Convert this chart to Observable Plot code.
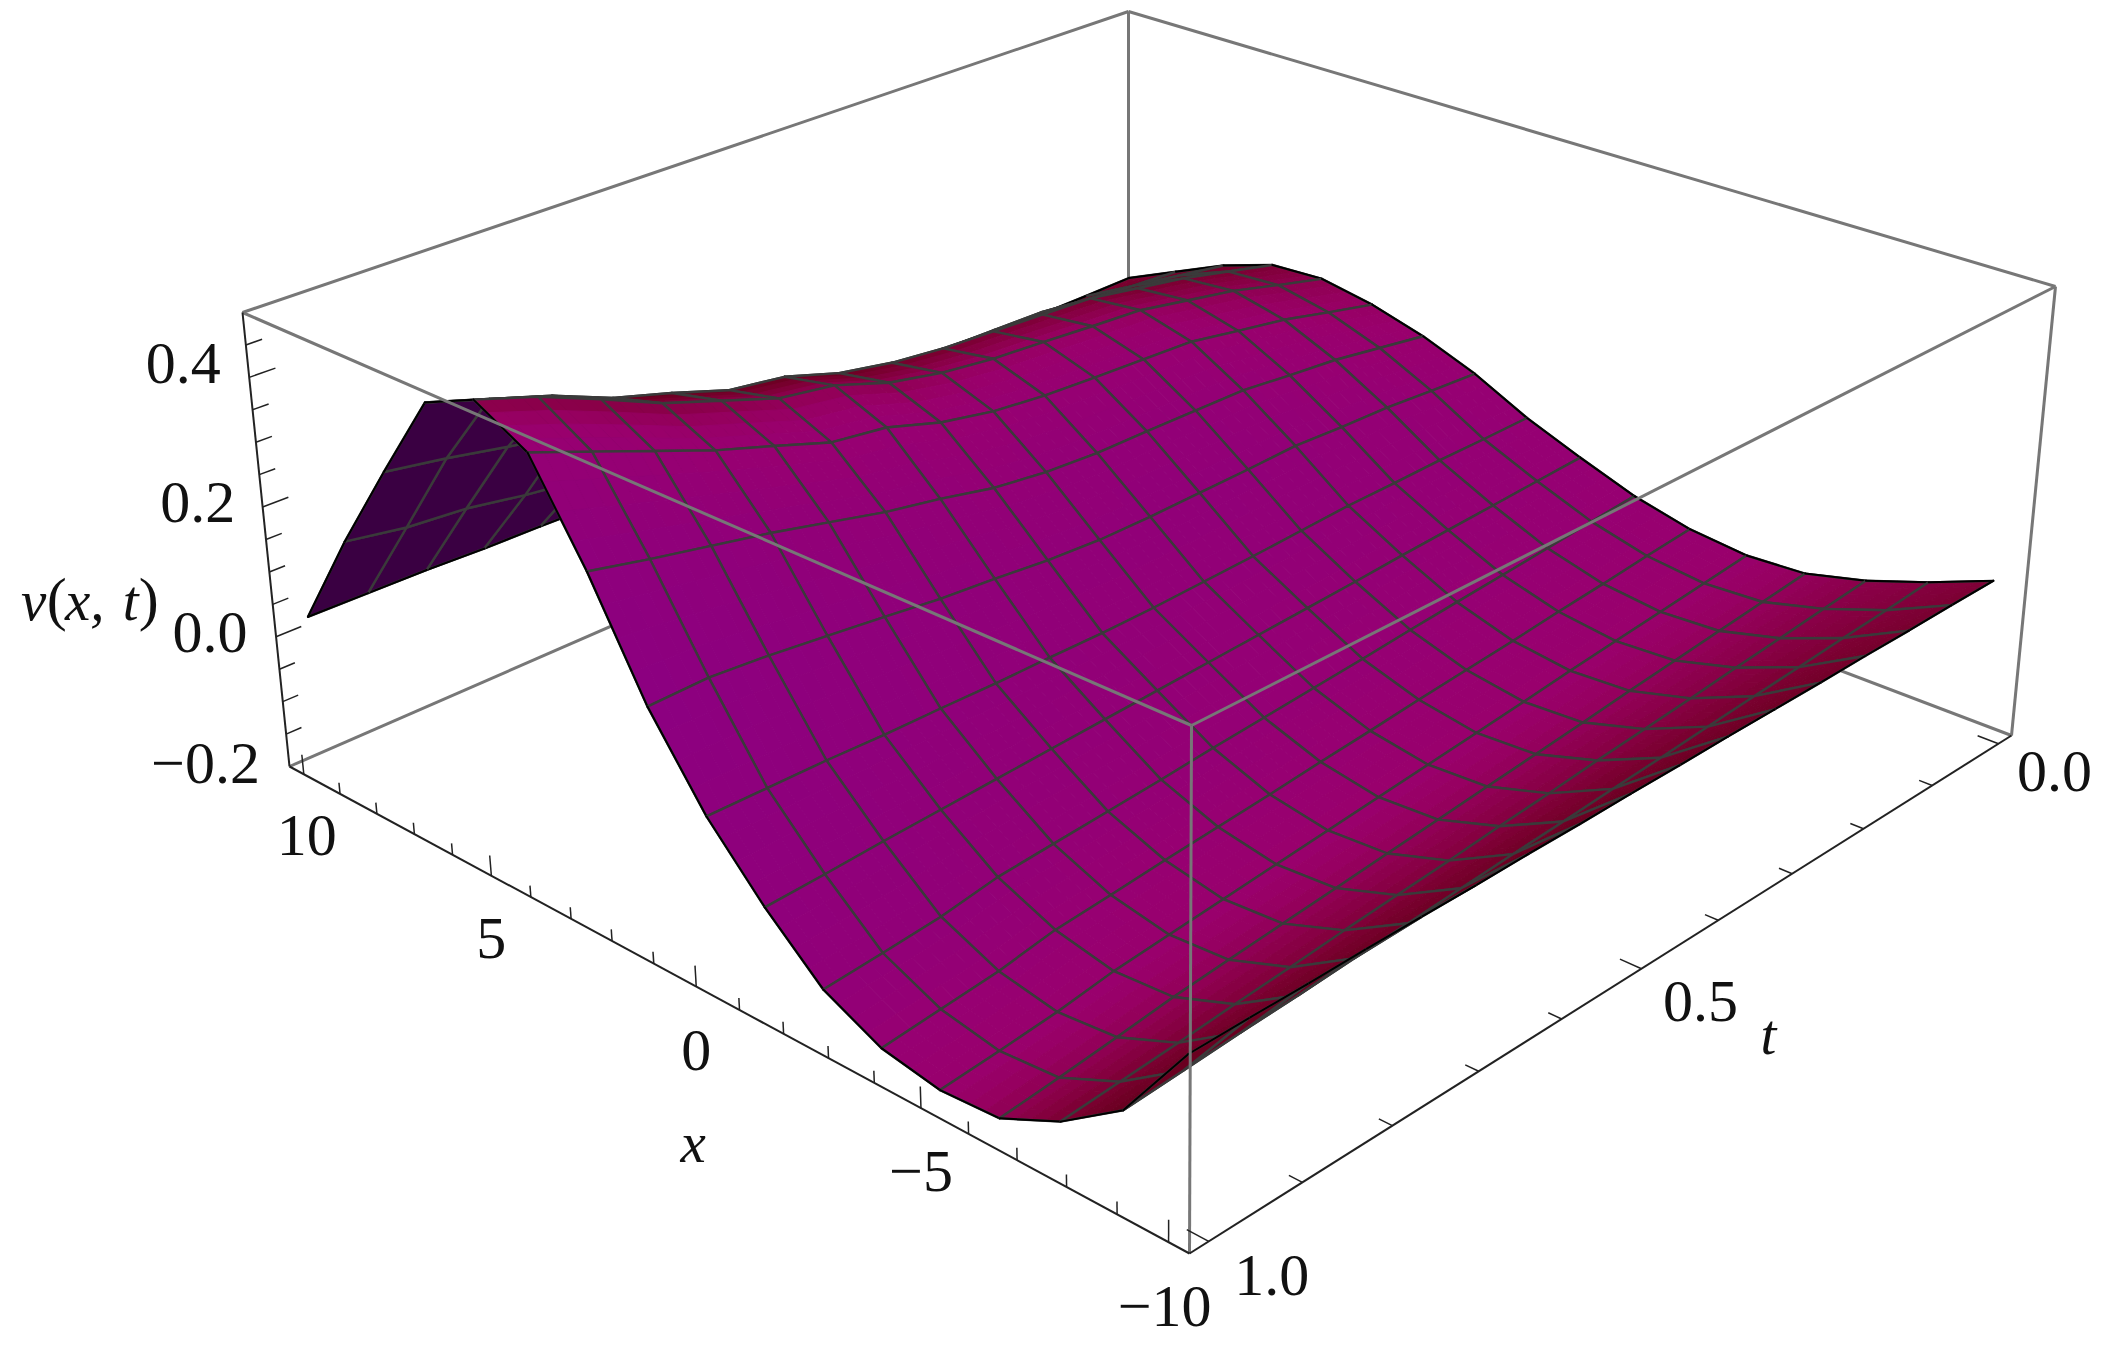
<!DOCTYPE html>
<html><head><meta charset="utf-8">
<style>html,body{margin:0;padding:0;background:#fff}svg{display:block}</style>
<script src="https://cdn.jsdelivr.net/npm/d3@7"></script>
<script src="https://cdn.jsdelivr.net/npm/@observablehq/plot@0.6"></script>
</head><body><div id="chart"></div>
<script>
const xValues=[-10,-8.75,-7.5,-6.25,-5,-3.75,-2.5,-1.25,0,1.25,2.5,3.75,5,6.25,7.5,8.75,10];
const tValues=[0,.0625,.125,.1875,.25,.3125,.375,.4375,.5,.5625,.625,.6875,.75,.8125,.875,.9375,1];
const v00=[.042,.005,-.027,-.050,-.055,-.046,-.025,.006,.040,.083,.116,.140,.155,.150,.120,.080,.040];
const v01=[.042,-.001,-.034,-.058,-.063,-.053,-.031,.002,.039,.088,.129,.159,.176,.170,.134,.086,.039];
const v02=[.041,-.006,-.042,-.066,-.071,-.061,-.038,-.002,.039,.094,.142,.179,.198,.190,.148,.093,.039];
const v03=[.041,-.012,-.049,-.074,-.079,-.068,-.044,-.006,.037,.096,.150,.193,.214,.205,.157,.096,.037];
const v04=[.040,-.017,-.057,-.082,-.087,-.076,-.050,-.010,.036,.100,.159,.208,.230,.220,.167,.100,.036];
const v05=[.040,-.023,-.064,-.091,-.096,-.083,-.056,-.015,.032,.097,.160,.212,.236,.225,.169,.098,.032];
const v06=[.040,-.029,-.071,-.099,-.104,-.090,-.063,-.019,.028,.095,.161,.216,.243,.230,.171,.098,.028];
const v07=[.039,-.034,-.079,-.107,-.112,-.098,-.069,-.023,.025,.093,.161,.221,.249,.235,.172,.096,.025];
const v08=[.039,-.040,-.086,-.115,-.120,-.105,-.075,-.027,.022,.093,.166,.230,.260,.245,.178,.097,.022];
const v09=[.038,-.045,-.094,-.123,-.128,-.113,-.081,-.031,.021,.098,.177,.247,.278,.262,.190,.102,.021];
const v10=[.038,-.051,-.101,-.131,-.136,-.120,-.088,-.035,.022,.107,.196,.274,.308,.290,.210,.113,.022];
const v11=[.037,-.057,-.108,-.139,-.144,-.127,-.094,-.039,.022,.114,.212,.286,.322,.303,.227,.121,.022];
const v12=[.037,-.062,-.116,-.147,-.152,-.135,-.100,-.043,.024,.125,.233,.316,.353,.333,.249,.132,.024];
const v13=[.037,-.068,-.123,-.155,-.160,-.142,-.106,-.047,.025,.135,.254,.345,.384,.360,.271,.143,.025];
const v14=[.036,-.073,-.131,-.166,-.173,-.157,-.120,-.051,.028,.145,.272,.380,.425,.398,.287,.158,.028];
const v15=[.036,-.079,-.138,-.176,-.182,-.166,-.128,-.056,.029,.152,.290,.415,.464,.428,.305,.165,.029];
const v16=[.035,-.085,-.145,-.185,-.190,-.175,-.135,-.060,.030,.150,.310,.450,.495,.458,.320,.180,.030];
const vRows=[v00,v01,v02,v03,v04,v05,v06,v07,v08,v09,v10,v11,v12,v13,v14,v15,v16];

const xTicks=[-10,-9,-8,-7,-6,-5,-4,-3,-2,-1,0,1,2,3,4,5,6,7,8,9,10];
const tTicks=[0,.1,.2,.3,.4,.5,.6,.7,.8,.9,1];
const vTicks=[-.15,-.1,-.05,0,.05,.1,.15,.2,.25,.3,.35,.4,.45];
const xLabels=[[-10,"\u221210"],[-5,"\u22125"],[0,"0"],[5,"5"],[10,"10"]];
const tLabels=[[0,"0.0"],[.5,"0.5"],[1,"1.0"]];
const vLabels=[[-.2,"\u22120.2"],[0,"0.0"],[.2,"0.2"],[.4,"0.4"]];

const floorQuad={p00:[1128,400],p10:[2011,735],p11:[1189,1253],p01:[289,766]};
const topQuad={p00:[1128,11],p10:[2055,286],p11:[1191,725],p01:[242,312]};
const X0=-10.4,X1=10.4,T0=-.02,T1=1.02,V0=-.2,V1=.5;
function quad(q){
  const [x0,y0]=q.p00,[x1,y1]=q.p10,[x2,y2]=q.p11,[x3,y3]=q.p01;
  const dx1=x1-x2,dx2=x3-x2,sx=x0-x1+x2-x3,dy1=y1-y2,dy2=y3-y2,sy=y0-y1+y2-y3;
  const den=dx1*dy2-dx2*dy1,g=(sx*dy2-dx2*sy)/den,h=(dx1*sy-sx*dy1)/den;
  const a=x1-x0+g*x1,b=x3-x0+h*x3,d=y1-y0+g*y1,e=y3-y0+h*y3;
  return (u,w)=>{const k=g*u+h*w+1;return [(a*u+b*w+x0)/k,(d*u+e*w+y0)/k];};
}
const hFloor=quad(floorQuad),hTop=quad(topQuad);
function proj(x,t,v){
  const u=(X1-x)/(X1-X0),w=(t-T0)/(T1-T0),s=(v-V0)/(V1-V0);
  const f=hFloor(u,w),g=hTop(u,w);
  return [f[0]+(g[0]-f[0])*s,f[1]+(g[1]-f[1])*s];
}
const shade=d3.scaleLinear().domain([-.85,-.55,-.3,-.1,.03,.14,.26,.38,.55,.75])
  .range(["#8b0082","#910078","#970072","#99006c","#960060","#8e0050","#850040","#7a0030","#6c0022","#5c001a"]);
const underColor="#3a0042",foldColor="#6a0020",meshColor="#3a3a3a";

const nI=xValues.length,nJ=tValues.length;
function keyAt(j,i){
  const il=Math.max(i-1,0),ir=Math.min(i+1,nI-1),jl=Math.max(j-1,0),jr=Math.min(j+1,nJ-1);
  const Gx=.4*((vRows[j][ir]-vRows[j][il])/(V1-V0))/((xValues[ir]-xValues[il])/(X1-X0));
  const Gt=.4*((vRows[jr][i]-vRows[jl][i])/(V1-V0))/((tValues[jr]-tValues[jl])/(T1-T0));
  return (-Gx+Gt)/Math.hypot(Gx,Gt,1);
}
const pts=[];let id=0;
function area(p){let a=0;for(let i=0;i<p.length;i++){const q=p[(i+1)%p.length];a+=p[i][0]*q[1]-q[0]*p[i][1];}return a;}
function pushPath(path,fill,stroke,sw){const k=id++;for(const p of path)pts.push({id:k,px:p[0],py:p[1],fill,stroke,sw});}
const SUB=4;
for(let i=nI-2;i>=0;i--){
  for(let j=0;j<nJ-1;j++){
    const x0=xValues[i],x1=xValues[i+1],t0=tValues[j],t1=tValues[j+1];
    const a=vRows[j][i],b=vRows[j][i+1],c=vRows[j+1][i+1],d=vRows[j+1][i];
    const na=keyAt(j,i),nb=keyAt(j,i+1),nc=keyAt(j+1,i+1),nd=keyAt(j+1,i);
    const poly=[proj(x0,t0,a),proj(x1,t0,b),proj(x1,t1,c),proj(x0,t1,d)];
    const flat=[proj(x0,t0,0),proj(x1,t0,0),proj(x1,t1,0),proj(x0,t1,0)];
    const facing=area(poly)*area(flat)>0;
    const P=(p,q)=>proj(x0+(x1-x0)*p,t0+(t1-t0)*q,a*(1-p)*(1-q)+b*p*(1-q)+c*p*q+d*(1-p)*q);
    const N=(p,q)=>na*(1-p)*(1-q)+nb*p*(1-q)+nc*p*q+nd*(1-p)*q;
    if(facing){
      for(let p=SUB-1;p>=0;p--)for(let q=0;q<SUB;q++){
        const p0=p/SUB,p1=(p+1)/SUB,q0=q/SUB,q1=(q+1)/SUB;
        const col=shade(N((p0+p1)/2,(q0+q1)/2));
        const sq=[P(p0,q0),P(p1,q0),P(p1,q1),P(p0,q1)];
        pushPath([...sq,sq[0]],col,col,1);
      }
    } else {
      const col=i<4?foldColor:underColor;
      pushPath([...poly,poly[0]],col,col,1);
    }
    pushPath([...poly,poly[0]],"none",meshColor,2.4);
    if(j===0)pushPath([poly[0],poly[1]],"none","#000",2);
    if(j===nJ-2)pushPath([poly[2],poly[3]],"none","#000",2);
    if(i===0)pushPath([poly[3],poly[0]],"none","#000",2);
    if(i===nI-2)pushPath([poly[1],poly[2]],"none","#000",2);
  }
}
const seg=(a,b)=>{const p=proj(...a),q=proj(...b);return {x1:p[0],y1:p[1],x2:q[0],y2:q[1]};};
const A=[X1,T1,V0],B=[X0,T1,V0],C=[X0,T0,V0],D=[X1,T0,V0];
const At=[X1,T1,V1],Bt=[X0,T1,V1],Ct=[X0,T0,V1],Dt=[X1,T0,V1];
const backEdges=[seg(D,Dt),seg(Dt,At),seg(Dt,Ct),seg(A,D),seg(C,D),seg(C,Ct)];
const frontEdges=[seg(At,Bt),seg(Bt,Ct),seg(B,Bt)];
const axisEdges=[seg(A,At),seg(A,B),seg(B,C)];
const isMajor=(n,m)=>Math.abs(n/m-Math.round(n/m))<1e-6;
const ticks=[
  ...xTicks.map(x=>seg([x,T1,V0],[x,T1,V0+(isMajor(x,5)?.03:.017)])),
  ...tTicks.map(t=>seg([X0,t,V0],[X0+(isMajor(t,.5)?.42:.26),t,V0])),
  ...vTicks.map(v=>seg([X1,T1,v],[X1,T1-(isMajor(v,.2)?.026:.016),v]))
];
const at=(p,dx,dy)=>{const q=proj(...p);return {px:q[0]+dx,py:q[1]+dy};};
const xOff={"-10":[-4,65],"-5":[0,64],"0":[0,64],"5":[0,63],"10":[3,62]};
const tOff={"0":[56,28],"0.5":[59,33],"1":[63,34]};
const vOff={"-0.2":[-84,-3],"0":[-66,-4],"0.2":[-65,-4],"0.4":[-66,-14]};
const labels=[
  ...xLabels.map(([x,s])=>({...at([x,T1,V0],...xOff[x]),s})),
  ...tLabels.map(([t,s])=>({...at([X0,t,V0],...tOff[t]),s})),
  ...vLabels.map(([v,s])=>({...at([X1,T1,v],...vOff[v]),s}))
];
const vBase=[X1,T1,.02];
const titles=[
  {...at([0,T1,V0],-3,157),s:"x"},
  {...at([X0,.5,V0],127,67),s:"t"},
  {...at(vBase,-241,-22),s:"v"},
  {...at(vBase,-190,-22),s:"x,"},
  {...at(vBase,-144,-22),s:"t"}
];
const parens=[{...at(vBase,-218,-24),s:"("},{...at(vBase,-126,-24),s:")"}];
const chart=Plot.plot({
  width:2106,height:1357,margin:0,
  x:{type:"identity",axis:null},y:{type:"identity",axis:null},color:{type:"identity"},
  style:{background:"#fff"},
  marks:[
    Plot.link(backEdges,{x1:"x1",y1:"y1",x2:"x2",y2:"y2",stroke:"#777",strokeWidth:3}),
    Plot.line(pts,{x:"px",y:"py",z:"id",fill:"fill",stroke:"stroke",strokeWidth:"sw",curve:"linear"}),
    Plot.link(frontEdges,{x1:"x1",y1:"y1",x2:"x2",y2:"y2",stroke:"#777",strokeWidth:3}),
    Plot.link(axisEdges,{x1:"x1",y1:"y1",x2:"x2",y2:"y2",stroke:"#222",strokeWidth:2}),
    Plot.link(ticks,{x1:"x1",y1:"y1",x2:"x2",y2:"y2",stroke:"#222",strokeWidth:1.5}),
    Plot.text(labels,{x:"px",y:"py",text:"s",fontFamily:"Liberation Serif",fontSize:60,fill:"#111"}),
    Plot.text(titles,{x:"px",y:"py",text:"s",fontFamily:"Liberation Serif",fontStyle:"italic",fontSize:57,fill:"#111"}),
    Plot.text(parens,{x:"px",y:"py",text:"s",fontFamily:"Liberation Serif",fontSize:60,fill:"#111"})
  ]
});
document.getElementById("chart").append(chart);
</script></body></html>
